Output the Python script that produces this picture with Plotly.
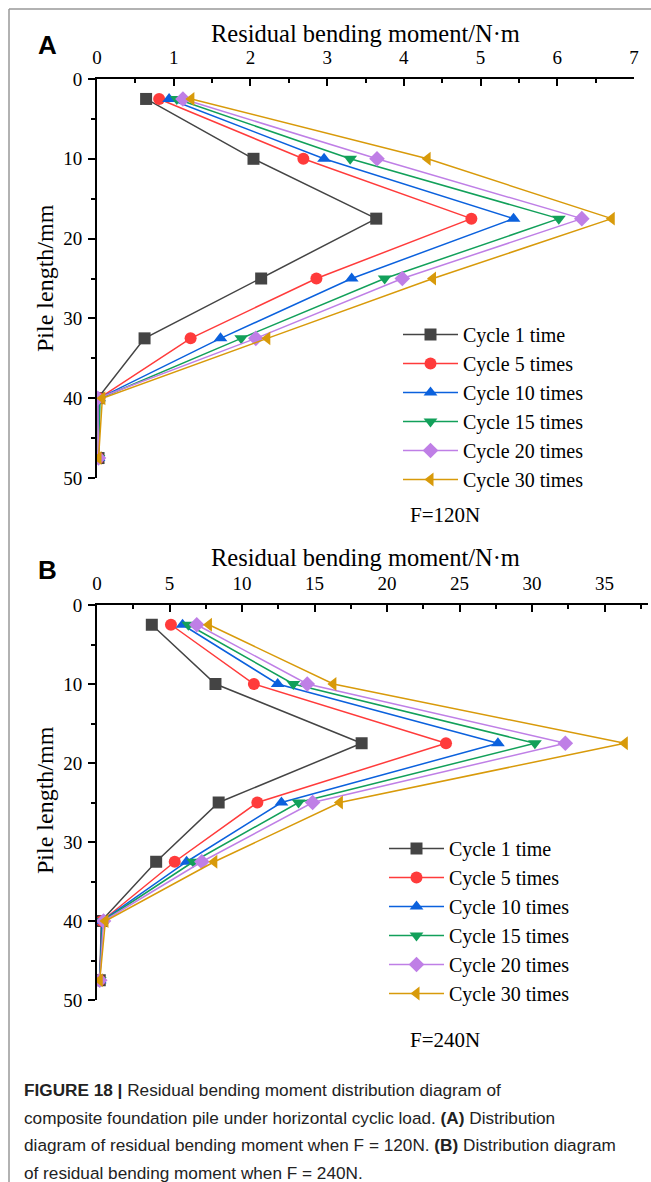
import plotly.graph_objects as go

W, H = 651, 1182

# pile depth of the measuring points (mm)
depth = [2.5, 10, 17.5, 25, 32.5, 40, 47.5]

names = ["Cycle 1 time", "Cycle 5 times", "Cycle 10 times",
         "Cycle 15 times", "Cycle 20 times", "Cycle 30 times"]

# residual bending moment (N·m), F = 120N
m120_c1 = [0.64, 2.04, 3.64, 2.14, 0.62, 0.01, 0.02]
m120_c5 = [0.81, 2.69, 4.88, 2.86, 1.22, 0.03, 0.02]
m120_c10 = [0.94, 2.96, 5.43, 3.32, 1.61, 0.03, 0.02]
m120_c15 = [1.04, 3.30, 6.02, 3.75, 1.88, 0.04, 0.02]
m120_c20 = [1.12, 3.65, 6.32, 3.98, 2.07, 0.01, 0.02]
m120_c30 = [1.23, 4.31, 6.71, 4.38, 2.22, 0.07, 0.02]

# residual bending moment (N·m), F = 240N
m240_c1 = [3.78, 8.17, 18.25, 8.39, 4.08, 0.30, 0.19]
m240_c5 = [5.10, 10.82, 24.07, 11.06, 5.36, 0.35, 0.19]
m240_c10 = [5.90, 12.46, 27.65, 12.72, 6.18, 0.35, 0.19]
m240_c15 = [6.30, 13.54, 30.20, 13.90, 6.64, 0.40, 0.19]
m240_c20 = [6.88, 14.50, 32.30, 14.87, 7.23, 0.45, 0.19]
m240_c30 = [7.72, 16.30, 36.40, 16.75, 8.09, 0.58, 0.19]

colors = ["#444444", "#ff3b3b", "#0b61dd", "#12a05a", "#bf7fe6", "#d89a0a"]
symbols = ["square", "circle", "triangle-up", "triangle-down", "diamond", "triangle-left"]

serif = "Liberation Serif, Times New Roman, serif"
sans = "Liberation Sans, Arial, sans-serif"


def px(x):
    return x / W


def py(y):
    return 1 - y / H


fig = go.Figure()

panels = [
    ([m120_c1, m120_c5, m120_c10, m120_c15, m120_c20, m120_c30], "x", "y", "legend"),
    ([m240_c1, m240_c5, m240_c10, m240_c15, m240_c20, m240_c30], "x2", "y2", "legend2"),
]
for series, xa, ya, lg in panels:
    for i in range(len(series)):
        fig.add_trace(
            go.Scatter(
                x=series[i],
                y=depth,
                mode="lines+markers",
                line=dict(color=colors[i], width=1.5),
                marker=dict(symbol=symbols[i], color=colors[i], size=12),
                name=names[i],
                xaxis=xa,
                yaxis=ya,
                legend=lg,
            )
        )

xcommon = dict(
    side="top", showline=True, linecolor="black", linewidth=2, showgrid=False,
    zeroline=False, ticks="inside", ticklen=7, tickwidth=2, tickcolor="black",
    tickfont=dict(family=serif, size=19, color="black"), ticklabelstandoff=5,
    automargin=False,
)
ycommon = dict(
    range=[50, 0], showline=True, linecolor="black", linewidth=2, showgrid=False,
    zeroline=False, ticks="outside", ticklen=7, tickwidth=2, tickcolor="black",
    dtick=10, tickfont=dict(family=serif, size=19, color="black"), automargin=False,
    ticklabelstandoff=2,
    minor=dict(ticks="outside", ticklen=4, dtick=5, tickcolor="black", tickwidth=2),
)

legend_style = dict(xanchor="left", yanchor="top",
                    font=dict(family=serif, size=20, color="black"),
                    bgcolor="rgba(0,0,0,0)", itemwidth=55, tracegroupgap=0)

fig.update_layout(
    template="none",
    width=W, height=H,
    margin=dict(l=0, r=0, t=0, b=0, autoexpand=False),
    paper_bgcolor="white", plot_bgcolor="white",
    xaxis=dict(xcommon, domain=[px(97), px(634)], range=[0, 7], dtick=1, anchor="y",
               minor=dict(ticks="inside", ticklen=4, dtick=0.5, tickcolor="black", tickwidth=2)),
    yaxis=dict(ycommon, domain=[py(478), py(79)], anchor="x"),
    xaxis2=dict(xcommon, domain=[px(97), px(648)], range=[0, 38], dtick=5, anchor="y2",
                minor=dict(ticks="inside", ticklen=4, dtick=2.5, tickcolor="black", tickwidth=2)),
    yaxis2=dict(ycommon, domain=[py(1000), py(605)], anchor="x2"),
    legend=dict(legend_style, x=px(398), y=py(315)),
    legend2=dict(legend_style, x=px(384), y=py(829)),
    showlegend=True,
)

ann = []
for ytitle, ylab, yf, letter, yl, ftxt in [(33, 278, 515, "A", 45, "F=120N"),
                                          (557, 800, 1040, "B", 570, "F=240N")]:
    ann.append(dict(x=px(365), y=py(ytitle), text="Residual bending moment/N·m",
                    font=dict(family=serif, size=24.5, color="black")))
    ann.append(dict(x=px(45), y=py(ylab), text="Pile length/mm", textangle=-90,
                    font=dict(family=serif, size=24, color="black")))
    ann.append(dict(x=px(47), y=py(yl), text="<b>" + letter + "</b>",
                    font=dict(family=sans, size=26, color="black")))
    ann.append(dict(x=px(445), y=py(yf), text=ftxt,
                    font=dict(family=serif, size=21, color="black")))

caption = [
    "<b>FIGURE 18 |</b> Residual bending moment distribution diagram of",
    "composite foundation pile under horizontal cyclic load. <b>(A)</b> Distribution",
    "diagram of residual bending moment when F = 120N. <b>(B)</b> Distribution diagram",
    "of residual bending moment when F = 240N.",
]
for k in range(len(caption)):
    ann.append(dict(x=px(22), y=py(1090 + 27.5 * k), xanchor="left", text=caption[k],
                    font=dict(family=sans, size=17.2, color="#222222")))

for a in ann:
    a.setdefault("xanchor", "center")
    a.update(xref="paper", yref="paper", yanchor="middle", showarrow=False)
fig.update_layout(annotations=ann)

# thin frame around the figure
fig.add_shape(type="line", xref="paper", yref="paper", x0=px(9), x1=1, y0=py(9), y1=py(9),
              line=dict(color="#999999", width=1.5))
fig.add_shape(type="line", xref="paper", yref="paper", x0=px(9), x1=px(9), y0=0, y1=py(9),
              line=dict(color="#999999", width=1.5))

# page body has an 8px margin by default; drop it so the figure fills the window
fig.write_html("out.html", config={"displayModeBar": False},
               post_script="document.body.style.margin='0';")
